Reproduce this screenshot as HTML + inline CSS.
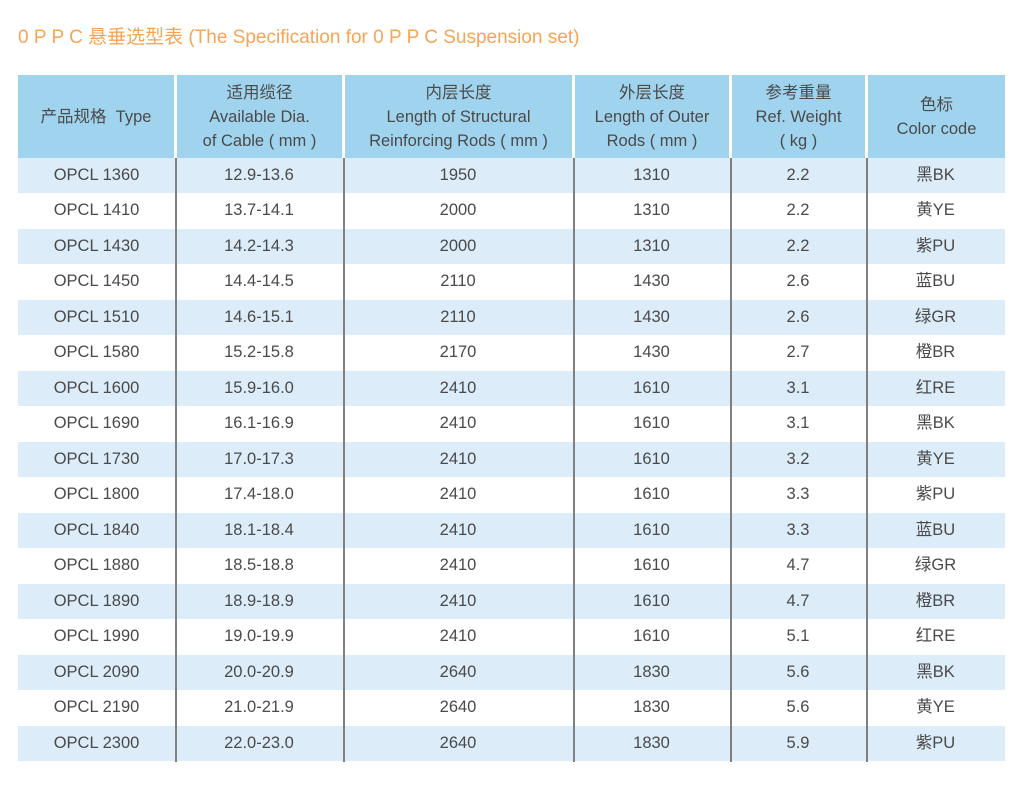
<!DOCTYPE html><html><head><meta charset="utf-8"><style>
body{margin:0;width:1030px;height:787px;background:#fff;position:relative;overflow:hidden;font-family:"Liberation Sans","Noto Sans CJK SC",sans-serif;color:#4a4a4a}
.t{position:absolute;left:18px;top:22px;font-size:19px;color:#f8a455;font-weight:normal;letter-spacing:0px;white-space:nowrap}
.hd{position:absolute;top:75px;height:83px;background:#a0d4ee;display:flex;align-items:center;justify-content:center;text-align:center;font-size:16.5px;line-height:24px;color:#4a4a4a}
.r{position:absolute;left:18px;width:987px;height:35.5px}
.c{position:absolute;height:35.5px;line-height:35.5px;text-align:center;font-size:16.5px}
.v{position:absolute;top:158px;height:604px;width:2px;background:#808080}
</style></head><body>
<div class="t">0 P P C 悬垂选型表 (The Specification for 0 P P C Suspension set)</div>
<div class="hd" style="left:18px;width:156px">产品规格&nbsp; Type</div>
<div class="hd" style="left:177px;width:165px">适用缆径<br>Available Dia.<br>of Cable ( mm )</div>
<div class="hd" style="left:345px;width:227px">内层长度<br>Length of Structural<br>Reinforcing Rods ( mm )</div>
<div class="hd" style="left:575px;width:154px">外层长度<br>Length of Outer<br>Rods ( mm )</div>
<div class="hd" style="left:732px;width:133px">参考重量<br>Ref. Weight<br>( kg )</div>
<div class="hd" style="left:868px;width:137px">色标<br>Color code</div>
<div id="rows"></div>
<script>
var d=[["OPCL 1360","12.9-13.6","1950","1310","2.2","黑BK"],["OPCL 1410","13.7-14.1","2000","1310","2.2","黄YE"],["OPCL 1430","14.2-14.3","2000","1310","2.2","紫PU"],["OPCL 1450","14.4-14.5","2110","1430","2.6","蓝BU"],["OPCL 1510","14.6-15.1","2110","1430","2.6","绿GR"],["OPCL 1580","15.2-15.8","2170","1430","2.7","橙BR"],["OPCL 1600","15.9-16.0","2410","1610","3.1","红RE"],["OPCL 1690","16.1-16.9","2410","1610","3.1","黑BK"],["OPCL 1730","17.0-17.3","2410","1610","3.2","黄YE"],["OPCL 1800","17.4-18.0","2410","1610","3.3","紫PU"],["OPCL 1840","18.1-18.4","2410","1610","3.3","蓝BU"],["OPCL 1880","18.5-18.8","2410","1610","4.7","绿GR"],["OPCL 1890","18.9-18.9","2410","1610","4.7","橙BR"],["OPCL 1990","19.0-19.9","2410","1610","5.1","红RE"],["OPCL 2090","20.0-20.9","2640","1830","5.6","黑BK"],["OPCL 2190","21.0-21.9","2640","1830","5.6","黄YE"],["OPCL 2300","22.0-23.0","2640","1830","5.9","紫PU"]];
var cols=[[18,157],[175,168],[343,230],[573,157],[730,136],[866,139]];
var h="";
d.forEach(function(r,i){var y=158+i*35.47;
h+='<div class="r" style="top:'+y+'px;background:'+(i%2==0?'#dcecf9':'#fff')+'"></div>';
r.forEach(function(t,j){h+='<div class="c" style="top:'+y+'px;left:'+cols[j][0]+'px;width:'+cols[j][1]+'px">'+t+'</div>';});});
[175,343,573,730,866].forEach(function(x){h+='<div class="v" style="left:'+x+'px"></div>';});
document.getElementById("rows").innerHTML=h;
</script>
</body></html>
